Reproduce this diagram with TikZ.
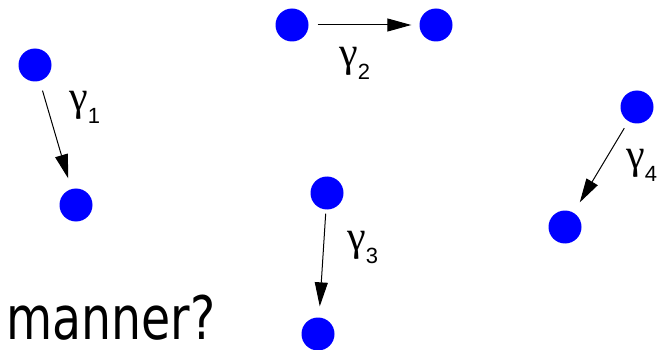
\documentclass[tikz,border=0pt]{standalone}
\usepackage{fontspec}
\setmainfont{Liberation Serif}
\newfontfamily\bigsans{DejaVu Sans}
\newfontfamily\digitsans{Liberation Sans}
\usetikzlibrary{arrows.meta}
\definecolor{dotblue}{RGB}{0,0,255}
\tikzset{
  dot/.style={circle,fill=dotblue,draw=none,minimum size=33pt,inner sep=0pt},
  move/.style={line width=1pt,-{Triangle[length=24pt,width=13pt]}},
  glabel/.style={anchor=base west,inner sep=0pt,text depth=0pt}
}
\newcommand{\gsub}[1]{{\fontsize{42}{42}\selectfont γ}\raisebox{-13pt}{\digitsans\fontsize{22}{22}\selectfont #1}}
\begin{document}
\begin{tikzpicture}[x=1pt,y=-1pt]
  \useasboundingbox (0,0) rectangle (659,350);
  % dots
  \node[dot] (a1) at (35,65) {};
  \node[dot] (b1) at (76,205) {};
  \node[dot] (a2) at (292,25) {};
  \node[dot] (b2) at (436,25) {};
  \node[dot] (a3) at (327,193) {};
  \node[dot] (b3) at (318,334) {};
  \node[dot] (a4) at (637,107) {};
  \node[dot] (b4) at (565,227) {};
  % arrows
  \draw[move,shorten <=10pt,shorten >=11pt] (a1) -- (b1);
  \draw[move,shorten <=9pt,shorten >=8pt] (a2) -- (b2);
  \draw[move,shorten <=4pt,shorten >=11pt] (a3) -- (b3);
  \draw[move,shorten <=8pt,shorten >=12pt] (a4) -- (b4);
  % labels
  \node[glabel] (l1) at (69,111) {\gsub{1}};
  \node[glabel] (l2) at (339,67) {\gsub{2}};
  \node[glabel] (l3) at (347,251) {\gsub{3}};
  \node[glabel] (l4) at (626,169) {\gsub{4}};
  % text
  \node[anchor=base west,inner sep=0pt,text depth=0pt] (t) at (6,339)
    {\scalebox{0.79}[1]{\bigsans\fontsize{60}{60}\selectfont manner?}};
\end{tikzpicture}
\end{document}
